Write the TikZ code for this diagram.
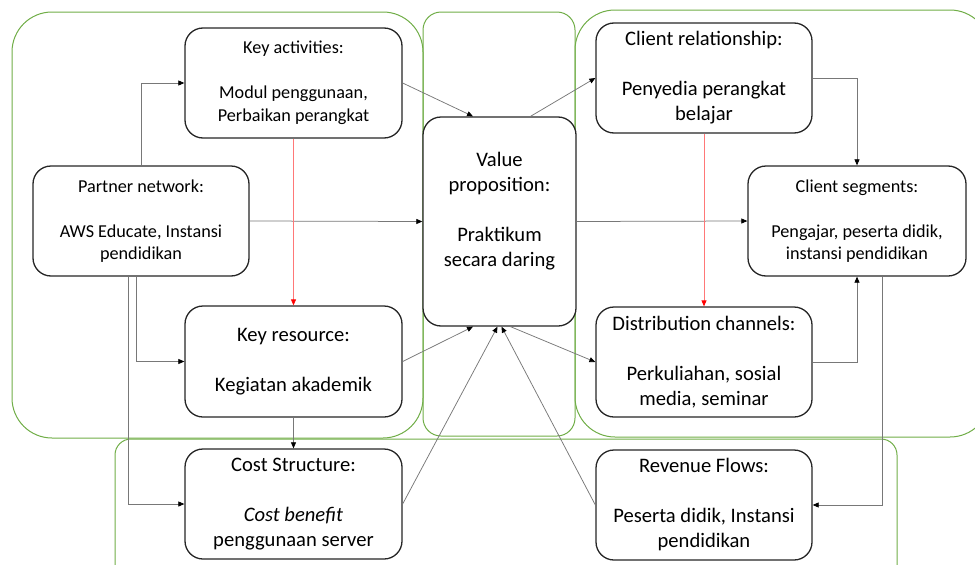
\documentclass[tikz,border=0pt]{standalone}
\usepackage{fontspec}
\setmainfont{Carlito}
\usetikzlibrary{arrows.meta}
\definecolor{grpgreen}{RGB}{112,173,71}
\definecolor{boxline}{RGB}{38,38,38}
\definecolor{linegray}{RGB}{120,120,120}
\definecolor{redline}{RGB}{255,120,120}
\newcommand{\smallfs}{\fontsize{18.2}{22.5}\selectfont}
\newcommand{\largefs}{\fontsize{20.6}{25}\selectfont}
\tikzset{
  grp/.style={draw=grpgreen, line width=1pt},
  card/.style={draw=boxline, fill=white, line width=1.3pt, rounded corners=18pt,
    minimum width=217pt, minimum height=110pt, align=center, inner sep=0pt},
  conn/.style={draw=linegray, line width=0.75pt,
    -{Triangle[length=6pt,width=5pt,color=black]}},
  redconn/.style={draw=redline, line width=0.8pt,
    -{Triangle[length=6pt,width=5pt,color=red]}}
}
\begin{document}
\begin{tikzpicture}[x=1pt,y=-1pt]
\useasboundingbox (0,0) rectangle (975,565);
\begin{scope}
\clip (0,0) rectangle (975,565);
% group outlines
\draw[grp, rounded corners=40pt] (12,12) rectangle (423,438);
\draw[grp, rounded corners=18pt] (423,12) rectangle (575,436);
\draw[grp, rounded corners=40pt] (575,10) rectangle (990,437);
\draw[grp, rounded corners=16pt] (115,439) rectangle (897,620);
\end{scope}

% canvas blocks
\node[card, font=\smallfs] (ka) at (293.5,83)
  {Key activities:\\\mbox{}\\Modul penggunaan,\\Perbaikan perangkat};
\node[card, font=\smallfs, minimum width=216pt] (pn) at (141,221)
  {Partner network:\\\mbox{}\\AWS Educate, Instansi\\pendidikan};
\node[card, font=\largefs, minimum width=153pt, minimum height=209pt] (vp) at (499.5,221.5)
  {Value\\proposition:\\\mbox{}\\Praktikum\\secara daring\\\mbox{}};
\node[card, font=\largefs, minimum width=216pt] (cr) at (704,78)
  {Client relationship:\\\mbox{}\\Penyedia perangkat\\belajar};
\node[card, font=\smallfs, minimum width=218pt] (cs) at (857,221)
  {Client segments:\\\mbox{}\\Pengajar, peserta didik,\\instansi pendidikan};
\node[card, font=\largefs, minimum height=111pt] (kr) at (293.5,361.5)
  {Key resource:\\\mbox{}\\Kegiatan akademik};
\node[card, font=\largefs] (cst) at (293.5,504)
  {Cost Structure:\\\mbox{}\\\textit{Cost benefit}\\penggunaan server};
\node[card, font=\largefs, minimum width=216pt] (dc) at (704,362)
  {Distribution channels:\\\mbox{}\\Perkuliahan, sosial\\media, seminar};
\node[card, font=\largefs, minimum width=216pt] (rf) at (704,505)
  {Revenue Flows:\\\mbox{}\\Peserta didik, Instansi\\pendidikan};

% connectors
\draw[conn] (pn.north) |- (ka.west);
\draw[conn] (pn.east) -- (vp.west);
\draw[conn] ([xshift=-5pt]pn.south) |- (kr.west);
\draw[conn] ([xshift=-13pt]pn.south) |- (cst.west);
\draw[conn] (ka.east) -- ([xshift=-26.5pt]vp.north);
\draw[redconn] (ka.south) -- (kr.north);
\draw[conn] (kr.east) -- ([xshift=-26.5pt]vp.south);
\draw[conn] (kr.south) -- (cst.north);
\draw[conn] (cst.east) -- ([xshift=-2pt]vp.south);
\draw[conn] (rf.west) -- ([xshift=2pt]vp.south);
\draw[conn] ([xshift=11pt]vp.south) -- (dc.west);
\draw[conn] ([xshift=31pt]vp.north) -- (cr.west);
\draw[conn] (vp.east) -- (cs.west);
\draw[conn] (cr.east) -| (cs.north);
\draw[redconn] (cr.south) -- (dc.north);
\draw[conn] (dc.east) -| (cs.south);
\draw[conn] ([xshift=25pt]cs.south) |- (rf.east);
\end{tikzpicture}
\end{document}
